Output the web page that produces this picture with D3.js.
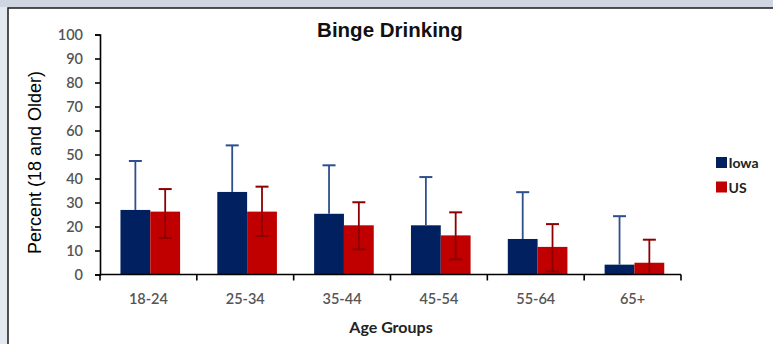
<!DOCTYPE html>
<html>
<head>
<meta charset="utf-8">
<script src="https://cdn.jsdelivr.net/npm/d3@7"></script>
<style>
  html, body { margin: 0; padding: 0; background: #cfd6e2; }
  svg { display: block; }
</style>
</head>
<body>
<svg id="chart" width="773" height="344"></svg>
<script>
// Chart data.
const ageGroups = ['18-24', '25-34', '35-44', '45-54', '55-64', '65+'];
const seriesNames = ['Iowa', 'US'];
const iowaValues = [26.9, 34.4, 25.3, 20.5, 14.8, 4.1];
const iowaUpper = [47.3, 53.8, 45.5, 40.6, 34.3, 24.3];
const usValues = [26.2, 26.2, 20.5, 16.3, 11.5, 4.9];
const usUpper = [35.6, 36.6, 30.1, 25.9, 21.0, 14.5];
const usLower = [15.2, 16.0, 10.5, 6.3, 1.3, 0];
const yTicks = [0, 10, 20, 30, 40, 50, 60, 70, 80, 90, 100];

const colors = { Iowa: '#002060', US: '#c00000' };
const errColors = { Iowa: '#2e4e8e', US: '#8e0000' };

const svg = d3.select('#chart');

// light frame background, white panel with dark border
svg.append('rect').attr('x', 0).attr('y', 0).attr('width', 773).attr('height', 344).attr('fill', '#cfd6e2');
svg.append('rect').attr('x', 0).attr('y', 7).attr('width', 8).attr('height', 337).attr('fill', '#e4e8f0');
svg.append('rect').attr('x', 8).attr('y', 8).attr('width', 780).attr('height', 350)
    .attr('fill', '#fff').attr('stroke', '#1a1a1a').attr('stroke-width', 1.5);

const margin = { left: 100, right: 681, top: 34.5, bottom: 274.5 };

const x0 = d3.scaleBand().domain(ageGroups).range([margin.left, margin.right]).padding(0);
const x1 = d3.scaleBand().domain(seriesNames).range([0, x0.bandwidth()])
    .paddingInner(0).paddingOuter(0.624).align(0.55);
const y = d3.scaleLinear().domain([0, 100]).range([margin.bottom, margin.top]);

const rows = ageGroups.map((g, i) => ({
    group: g,
    Iowa: { v: iowaValues[i], hi: iowaUpper[i], lo: null },
    US: { v: usValues[i], hi: usUpper[i], lo: usLower[i] }
}));

// bars
const groups = svg.append('g').selectAll('g')
    .data(rows).join('g')
    .attr('transform', d => `translate(${x0(d.group)},0)`);

groups.selectAll('rect')
    .data(d => seriesNames.map(s => ({ s, ...d[s] })))
    .join('rect')
    .attr('x', d => x1(d.s))
    .attr('y', d => y(d.v))
    .attr('width', x1.bandwidth())
    .attr('height', d => y(0) - y(d.v))
    .attr('fill', d => colors[d.s]);

// error bars (Iowa only shows the upper half above its bar)
const capW = 13;
groups.selectAll('g.err')
    .data(d => seriesNames.map(s => ({ s, ...d[s] })))
    .join('g')
    .attr('class', 'err')
    .each(function (d) {
        const g = d3.select(this);
        const cx = x1(d.s) + x1.bandwidth() / 2;
        const lo = d.lo === null ? d.v : d.lo;
        g.append('line').attr('x1', cx).attr('x2', cx)
            .attr('y1', y(lo)).attr('y2', y(d.hi))
            .attr('stroke', errColors[d.s]).attr('stroke-width', 1.8);
        g.append('line').attr('x1', cx - capW / 2).attr('x2', cx + capW / 2)
            .attr('y1', y(d.hi)).attr('y2', y(d.hi))
            .attr('stroke', errColors[d.s]).attr('stroke-width', 2);
        if (d.lo !== null && d.lo > 0) {
            g.append('line').attr('x1', cx - capW / 2).attr('x2', cx + capW / 2)
                .attr('y1', y(d.lo)).attr('y2', y(d.lo))
                .attr('stroke', errColors[d.s]).attr('stroke-width', 2);
        }
    });

// y axis
svg.append('g')
    .attr('transform', `translate(${margin.left},0)`)
    .call(d3.axisLeft(y).tickValues(yTicks).tickSize(5).tickPadding(12))
    .call(g => g.select('.domain').attr('stroke', '#000').attr('stroke-width', 1.6))
    .call(g => g.selectAll('line').attr('stroke', '#000').attr('stroke-width', 1.6))
    .call(g => g.selectAll('text').attr('fill', '#555')
        .style('font-family', 'Lato, "Open Sans", sans-serif').style('font-size', '14.5px')
        .style('font-weight', '600'));

// x axis: ticks at category boundaries
const boundaries = ageGroups.map(g => x0(g)).concat([margin.right]);
const xAxisG = svg.append('g');
xAxisG.append('line')
    .attr('x1', margin.left).attr('x2', margin.right)
    .attr('y1', y(0)).attr('y2', y(0))
    .attr('stroke', '#000').attr('stroke-width', 1.6);
xAxisG.selectAll('line.tick')
    .data(boundaries).join('line')
    .attr('class', 'tick')
    .attr('x1', d => d).attr('x2', d => d)
    .attr('y1', y(0)).attr('y2', y(0) + 6)
    .attr('stroke', '#000').attr('stroke-width', 1.6);
xAxisG.selectAll('text')
    .data(ageGroups).join('text')
    .attr('x', d => x0(d) + x0.bandwidth() / 2)
    .attr('y', 304)
    .attr('text-anchor', 'middle')
    .attr('fill', '#555')
    .style('font-family', 'Lato, "Open Sans", sans-serif')
    .style('font-size', '14.5px')
    .style('font-weight', '600')
    .text(d => d);

// titles
svg.append('text')
    .attr('x', 390).attr('y', 37)
    .attr('text-anchor', 'middle')
    .style('font-family', '"Liberation Sans", Arial, sans-serif')
    .style('font-size', '20.5px')
    .style('font-weight', 'bold')
    .attr('fill', '#111')
    .text('Binge Drinking');

svg.append('text')
    .attr('transform', 'translate(41,162.5) rotate(-90)')
    .attr('text-anchor', 'middle')
    .style('font-family', '"Liberation Sans", Arial, sans-serif')
    .style('font-size', '18px')
    .attr('fill', '#000')
    .text('Percent (18 and Older)');

svg.append('text')
    .attr('x', 391).attr('y', 333)
    .attr('text-anchor', 'middle')
    .style('font-family', 'Lato, "Open Sans", sans-serif')
    .style('font-size', '16px')
    .style('font-weight', 'bold')
    .attr('fill', '#222')
    .text('Age Groups');

// legend
const legend = svg.append('g').attr('transform', 'translate(716,157)');
seriesNames.forEach((s, i) => {
    legend.append('rect')
        .attr('x', 0).attr('y', i * 24.5)
        .attr('width', 11).attr('height', 11)
        .attr('fill', colors[s]);
    legend.append('text')
        .attr('x', 12.5).attr('y', i * 24.5 + 11)
        .style('font-family', 'Lato, "Open Sans", sans-serif')
        .style('font-size', '14px')
        .style('font-weight', 'bold')
        .attr('fill', '#222')
        .text(s);
});
</script>
</body>
</html>
